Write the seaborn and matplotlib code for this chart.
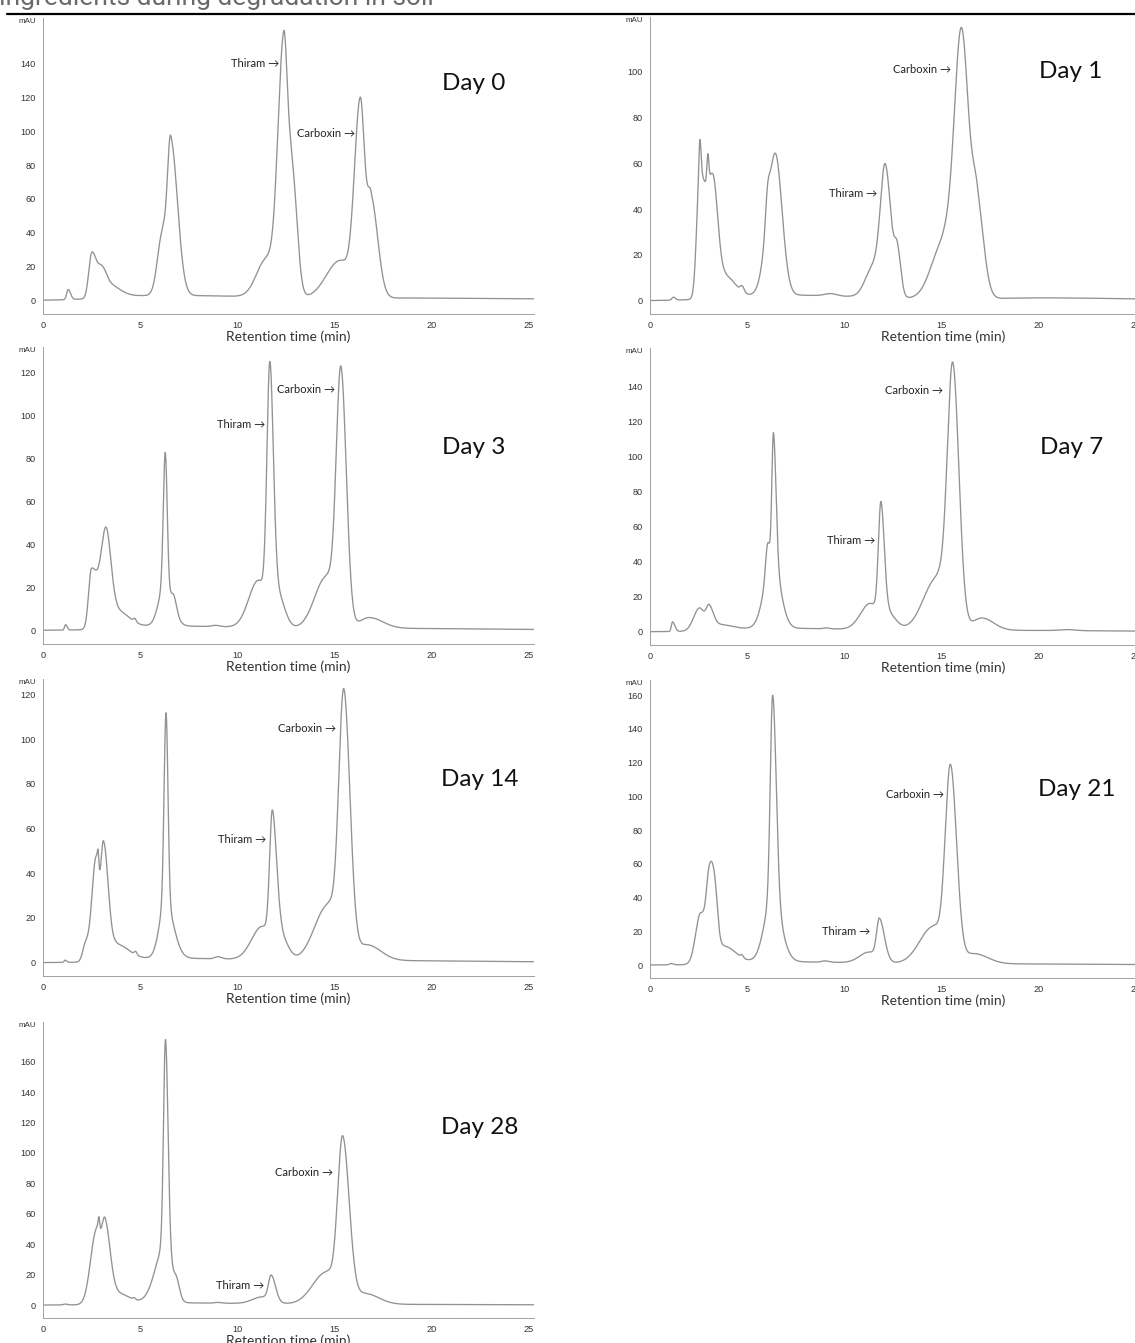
import numpy as np
import pandas as pd
import matplotlib
matplotlib.use("Agg")
import matplotlib.pyplot as plt
import matplotlib.transforms as mtransforms
from matplotlib.lines import Line2D
from matplotlib.ticker import MultipleLocator, FuncFormatter
import seaborn as sns

# ---------------------------------------------------------------------------
# HPLC peak tables per sampling day.
# Each peak: (retention time [min], height [mAU], leading sigma, tailing sigma)
# ---------------------------------------------------------------------------
DAYS = ["Day 0", "Day 1", "Day 3", "Day 7", "Day 14", "Day 21", "Day 28"]

DAY0_PEAKS = [
    (1.30, 6.0, 0.08, 0.12),
    (2.50, 24.0, 0.15, 0.20),
    (2.95, 14.0, 0.25, 0.25),
    (3.30, 8.0, 0.30, 0.60),
    (6.15, 36.0, 0.25, 0.20),
    (6.58, 91.0, 0.17, 0.35),
    (11.50, 22.0, 0.50, 0.40),
    (12.40, 150.0, 0.30, 0.20),
    (12.85, 70.0, 0.20, 0.25),
    (15.30, 22.0, 0.70, 0.50),
    (16.35, 115.0, 0.30, 0.22),
    (16.90, 58.0, 0.20, 0.35),
    (6.00, 3.0, 2.50, 6.00),
    (20.00, 1.2, 4.00, 8.00),
]

DAY1_PEAKS = [
    (1.21, 1.3, 0.08, 0.10),
    (2.55, 50.0, 0.15, 0.30),
    (3.25, 50.0, 0.30, 0.25),
    (2.57, 16.0, 0.05, 0.06),
    (2.98, 12.0, 0.05, 0.05),
    (3.90, 9.0, 0.30, 0.50),
    (4.75, 2.5, 0.10, 0.10),
    (6.05, 10.0, 0.10, 0.10),
    (6.45, 62.0, 0.40, 0.35),
    (9.30, 1.0, 0.30, 0.30),
    (11.50, 13.0, 0.40, 0.30),
    (12.12, 57.0, 0.25, 0.30),
    (12.75, 18.0, 0.15, 0.18),
    (15.10, 24.0, 0.60, 0.40),
    (16.05, 117.0, 0.38, 0.38),
    (16.85, 38.0, 0.25, 0.35),
    (6.50, 2.5, 2.50, 5.00),
    (20.50, 1.2, 3.00, 5.00),
]

DAY3_PEAKS = [
    (1.16, 2.5, 0.05, 0.08),
    (2.50, 28.0, 0.15, 0.35),
    (3.25, 43.0, 0.25, 0.25),
    (3.80, 8.0, 0.30, 0.60),
    (4.73, 1.5, 0.07, 0.07),
    (6.30, 63.0, 0.10, 0.10),
    (6.25, 18.0, 0.30, 0.40),
    (6.75, 6.0, 0.12, 0.15),
    (8.90, 0.6, 0.20, 0.20),
    (11.10, 22.0, 0.50, 0.45),
    (11.69, 113.0, 0.15, 0.18),
    (12.10, 15.0, 0.20, 0.35),
    (14.60, 24.0, 0.60, 0.40),
    (15.35, 118.0, 0.24, 0.28),
    (16.80, 5.0, 0.50, 0.70),
    (6.00, 2.0, 2.00, 5.00),
    (18.00, 0.8, 3.00, 6.00),
]

DAY7_PEAKS = [
    (1.16, 5.5, 0.06, 0.12),
    (2.55, 13.0, 0.30, 0.25),
    (3.05, 12.0, 0.15, 0.22),
    (3.60, 3.0, 0.40, 0.60),
    (6.05, 15.0, 0.10, 0.10),
    (6.36, 72.0, 0.08, 0.13),
    (6.30, 40.0, 0.40, 0.40),
    (9.10, 0.5, 0.15, 0.15),
    (11.35, 15.0, 0.50, 0.50),
    (11.90, 64.0, 0.13, 0.17),
    (12.30, 8.0, 0.20, 0.40),
    (14.80, 30.0, 0.70, 0.40),
    (15.60, 149.0, 0.28, 0.32),
    (17.10, 7.0, 0.50, 0.60),
    (21.50, 0.6, 0.40, 0.40),
    (6.00, 2.0, 2.00, 5.00),
    (18.00, 0.7, 3.00, 6.00),
]

DAY14_PEAKS = [
    (1.14, 1.0, 0.05, 0.08),
    (2.20, 8.0, 0.15, 0.20),
    (2.72, 45.0, 0.20, 0.15),
    (2.84, 8.0, 0.04, 0.04),
    (3.12, 52.0, 0.15, 0.24),
    (3.80, 7.0, 0.30, 0.60),
    (4.77, 1.5, 0.07, 0.07),
    (6.34, 85.0, 0.10, 0.10),
    (6.30, 25.0, 0.30, 0.42),
    (9.00, 1.0, 0.15, 0.20),
    (11.30, 15.0, 0.55, 0.50),
    (11.82, 58.0, 0.14, 0.22),
    (12.30, 9.0, 0.20, 0.35),
    (14.70, 25.0, 0.70, 0.40),
    (15.50, 118.0, 0.26, 0.32),
    (16.70, 7.0, 0.50, 0.70),
    (6.00, 2.0, 2.00, 5.00),
    (18.00, 0.8, 3.00, 6.00),
]

DAY21_PEAKS = [
    (1.10, 0.8, 0.10, 0.10),
    (2.60, 30.0, 0.25, 0.30),
    (3.05, 35.0, 0.15, 0.20),
    (3.33, 35.0, 0.20, 0.16),
    (3.80, 10.0, 0.30, 0.60),
    (4.74, 1.5, 0.07, 0.07),
    (6.32, 120.0, 0.12, 0.18),
    (6.30, 38.0, 0.40, 0.45),
    (9.00, 0.8, 0.15, 0.20),
    (11.30, 6.5, 0.50, 0.50),
    (11.82, 23.0, 0.14, 0.26),
    (14.60, 22.0, 0.70, 0.40),
    (15.48, 116.0, 0.27, 0.32),
    (16.70, 6.0, 0.50, 0.70),
    (6.00, 2.0, 2.00, 5.00),
    (18.00, 0.6, 3.00, 6.00),
]

DAY28_PEAKS = [
    (1.14, 0.6, 0.10, 0.10),
    (2.75, 48.0, 0.30, 0.20),
    (2.88, 8.0, 0.04, 0.04),
    (3.20, 52.0, 0.18, 0.26),
    (3.80, 7.0, 0.30, 0.60),
    (4.70, 1.2, 0.07, 0.07),
    (6.31, 135.0, 0.10, 0.13),
    (6.30, 38.0, 0.50, 0.35),
    (6.90, 8.0, 0.12, 0.15),
    (9.00, 0.5, 0.15, 0.20),
    (11.30, 4.5, 0.50, 0.50),
    (11.76, 16.0, 0.14, 0.22),
    (14.60, 21.0, 0.70, 0.40),
    (15.44, 108.0, 0.26, 0.34),
    (16.60, 7.0, 0.50, 0.70),
    (6.00, 1.5, 2.00, 5.00),
    (18.00, 0.4, 3.00, 6.00),
]

PEAK_TABLES = [DAY0_PEAKS, DAY1_PEAKS, DAY3_PEAKS, DAY7_PEAKS,
               DAY14_PEAKS, DAY21_PEAKS, DAY28_PEAKS]

# Signal axis range (mAU) used by the detector software for each run
Y_RANGES = [(-8.0, 167), (-5.8, 124), (-6.4, 132), (-7.6, 162),
            (-6.0, 127), (-7.7, 169), (-8.5, 186)]

# Label anchors (retention time, mAU): arrow tip of each compound label, day tag
THIRAM_AT = [(12.15, 140), (11.70, 47), (11.44, 96), (11.61, 52),
             (11.50, 55), (11.35, 20), (11.39, 13)]
CARBOXIN_AT = [(16.08, 99), (15.54, 101), (15.05, 112), (15.08, 138),
               (15.10, 105), (15.13, 101), (14.95, 87)]
DAY_AT = [(22.2, 128), (21.7, 100), (22.2, 85), (21.7, 105),
          (22.5, 82), (22.0, 104), (22.5, 117)]

T_MAX = 25.3


def chromatogram(peaks, t):
    """Sum of split-Gaussian peaks evaluated on the retention-time grid."""
    y = np.zeros_like(t)
    for rt, h, sl, sr in peaks:
        s = np.where(t < rt, sl, sr)
        y += h * np.exp(-0.5 * ((t - rt) / s) ** 2)
    return y


t_grid = np.linspace(0.0, T_MAX, 6000)
frames = []
for day, peaks in zip(DAYS, PEAK_TABLES):
    frames.append(pd.DataFrame({"time": t_grid,
                                "signal": chromatogram(peaks, t_grid),
                                "day": day}))
traces = pd.concat(frames, ignore_index=True)

# ---------------------------------------------------------------------------
sns.set_style("white")
plt.rcParams["font.family"] = ["Liberation Sans", "DejaVu Sans"]

W, H = 1135, 1343
fig = plt.figure(figsize=(W / 100, H / 100), dpi=100)

# panel boxes in pixels: (left, top, bottom)
PANEL_PX = [(43, 18, 314), (650, 17, 314),
            (43, 347, 644), (650, 348, 645),
            (43, 679, 976), (650, 680, 978),
            (43, 1022, 1318)]
PANEL_W = 491

LINE_COLOR = "#929292"
AXIS_COLOR = "#a0a0a0"
LABEL_FONT = ["Lato", "DejaVu Sans"]


def tick_formatter(ymax, px_per_unit):
    # the detector software leaves the tick right under "mAU" unlabelled
    def fmt(v, pos):
        if (ymax - v) * px_per_unit < 13:
            return ""
        return f"{v:.0f}"
    return FuncFormatter(fmt)


for i, (day, (px_l, px_t, px_b)) in enumerate(zip(DAYS, PANEL_PX)):
    ax = fig.add_axes([px_l / W, 1 - px_b / H, PANEL_W / W, (px_b - px_t) / H])
    sub = traces[traces["day"] == day]
    sns.lineplot(data=sub, x="time", y="signal", ax=ax, color=LINE_COLOR,
                 linewidth=0.95, estimator=None, errorbar=None)

    y0, y1 = Y_RANGES[i]
    ax.set_xlim(0, T_MAX)
    ax.set_ylim(y0, y1)
    ax.xaxis.set_major_locator(MultipleLocator(5))
    ax.xaxis.set_minor_locator(MultipleLocator(1))
    ax.yaxis.set_major_locator(MultipleLocator(20))
    ax.yaxis.set_minor_locator(MultipleLocator(4))
    ax.yaxis.set_major_formatter(tick_formatter(y1, (px_b - px_t) / (y1 - y0)))
    ax.tick_params(which="major", direction="out", length=3.5, width=0.6,
                   color=AXIS_COLOR, labelsize=6.6, labelcolor="#333333", pad=1.5)
    ax.tick_params(which="minor", direction="out", length=2, width=0.5,
                   color=AXIS_COLOR)
    for side in ("top", "right"):
        ax.spines[side].set_visible(False)
    for side in ("left", "bottom"):
        ax.spines[side].set_color(AXIS_COLOR)
        ax.spines[side].set_linewidth(0.7)

    ax.set_ylabel("")
    ax.set_xlabel("Retention time (min)", fontsize=10, color="#333333",
                  family=LABEL_FONT)
    xlab_center = 0.5 if px_l < 300 else (943 - px_l) / PANEL_W
    ax.xaxis.set_label_coords(xlab_center, -16 / (px_b - px_t))

    off = mtransforms.offset_copy(ax.transAxes, fig=fig, x=-7, y=-3.5,
                                  units="dots")
    ax.text(0, 1, "mAU", transform=off, ha="right", va="center",
            fontsize=5.8, color="#333333")

    tx, ty = THIRAM_AT[i]
    ax.text(tx, ty, "Thiram \u2192", ha="right", va="center", fontsize=8,
            color="#222222", family=LABEL_FONT)
    cx, cy = CARBOXIN_AT[i]
    ax.text(cx, cy, "Carboxin \u2192", ha="right", va="center", fontsize=8,
            color="#222222", family=LABEL_FONT)
    dx, dy = DAY_AT[i]
    ax.text(dx, dy, day, ha="center", va="center", fontsize=17.5,
            color="#111111", family=LABEL_FONT)

# heading fragment and rule above the panels
fig.text(-1 / W, 1 - 4.5 / H, "ingredients during degradation in soil",
         fontsize=19, color="#6a6a6a", family=["Roboto", "DejaVu Sans"],
         ha="left", va="baseline")
fig.add_artist(Line2D([7 / W, 1.0], [1 - 14 / H, 1 - 14 / H],
                      color="black", linewidth=1.6))

fig.savefig("out.png", dpi=100)
